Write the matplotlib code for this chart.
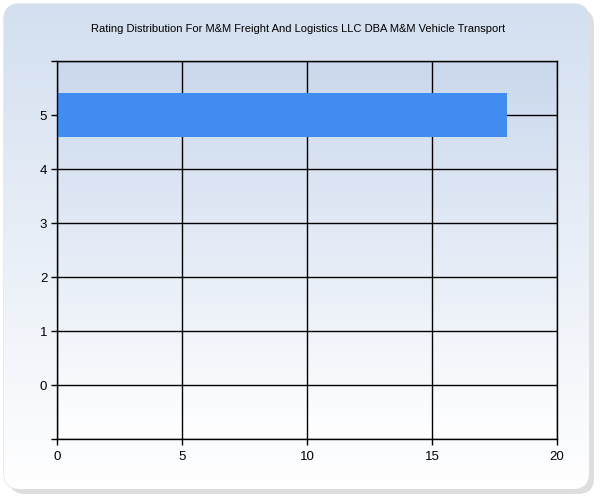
import numpy as np
import matplotlib
matplotlib.use('Agg')
import matplotlib.pyplot as plt
from matplotlib.patches import FancyBboxPatch
from matplotlib.colors import LinearSegmentedColormap

# Daten
ratings = [5]
counts = [18]
y_ticks = [0, 1, 2, 3, 4, 5]
x_ticks = [0, 5, 10, 15, 20]
title = 'Rating Distribution For M&M Freight And Logistics LLC DBA M&M Vehicle Transport'

plt.rcParams['font.family'] = ['Liberation Sans', 'DejaVu Sans']

fig = plt.figure(figsize=(6, 5), dpi=100)
fig.patch.set_facecolor('white')

# Hintergrund mit Rahmen und Schatten
bg = fig.add_axes([0, 0, 1, 1])
bg.set_xlim(0, 600)
bg.set_ylim(500, 0)
bg.axis('off')

shadow = FancyBboxPatch((9, 9), 585, 485, boxstyle='round,pad=0,rounding_size=16',
                        facecolor='#c8c8c8', edgecolor='none', alpha=0.6)
bg.add_patch(shadow)
frame = FancyBboxPatch((4, 4), 585, 485, boxstyle='round,pad=0,rounding_size=16',
                       facecolor='none', edgecolor='#e0e0e0', linewidth=1)
bg.add_patch(frame)

cmap_bg = LinearSegmentedColormap.from_list('bg', ['#d3dff0', '#ffffff'])
grad = np.linspace(0, 1, 256).reshape(-1, 1)
img = bg.imshow(grad, cmap=cmap_bg, extent=[4, 589, 489, 4], aspect='auto', zorder=1)
img.set_clip_path(frame)

# Diagramm
ax = fig.add_axes([57/600, 1 - 439/500, 500/600, 378/500])
cmap_plot = LinearSegmentedColormap.from_list('plot', ['#cad8ed', '#ffffff'])
ax.imshow(grad, cmap=cmap_plot, extent=[0, 20, -1, 6], aspect='auto', zorder=0, origin='upper')

ax.set_axisbelow(True)
ax.grid(True, color='black', linewidth=1)
ax.barh(ratings, counts, height=0.8, color='#418cf0', zorder=2)

ax.set_xlim(0, 20)
ax.set_ylim(-1, 6)
ax.set_xticks(x_ticks)
ax.set_yticks([-1] + y_ticks + [6])
ax.set_yticklabels([''] + [str(v) for v in y_ticks] + [''])
ax.tick_params(axis='both', length=4, width=1, color='black', labelsize=9.5)
ax.tick_params(axis='x', pad=5)
ax.tick_params(axis='y', pad=3)
for side in ['left', 'bottom', 'top', 'right']:
    ax.spines[side].set_linewidth(1)
    ax.spines[side].set_color('black')

fig.text(298/600, 1 - 29/500, title, ha='center', va='center', fontsize=8)

fig.savefig('out.png', dpi=100)
